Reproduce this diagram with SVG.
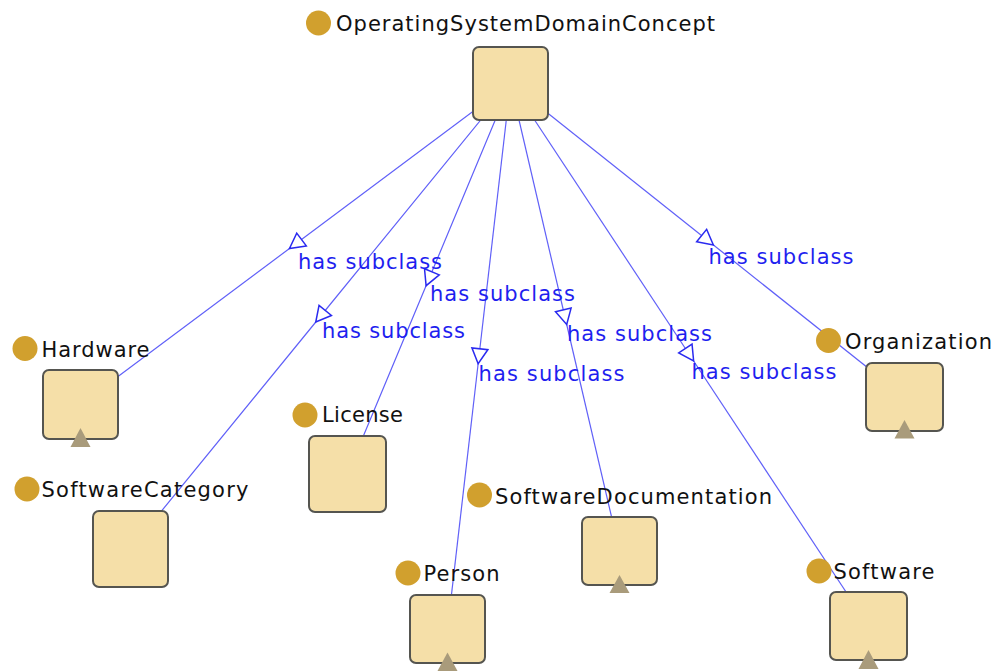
<svg xmlns="http://www.w3.org/2000/svg" width="996" height="671" viewBox="0 0 996 671">
<style>
.edge{fill:none;stroke:#6060f8;stroke-width:1.2;marker-mid:url(#hollow)}
.elabel{font-family:"DejaVu Sans","Liberation Sans",sans-serif;font-size:21px;fill:#1f1fef}
.box{fill:#f5dfa8;stroke:#555550;stroke-width:2}
.dot{fill:#d1a02e}
.tri{fill:#a99b7b}
.nlabel{font-family:"DejaVu Sans","Liberation Sans",sans-serif;font-size:21px;fill:#111}
</style>
<defs>
<marker id="hollow" markerUnits="userSpaceOnUse" viewBox="-10 -10 20 20" markerWidth="20" markerHeight="20" refX="0" refY="0" orient="auto">
<path d="M-7.5,-8 L7.5,0 L-7.5,8 Z" fill="#fff" stroke="#2a2af0" stroke-width="1.5" stroke-linejoin="miter"/>
</marker>
</defs>
<rect width="996" height="671" fill="#fff"/>
<g id="connectors">
<polyline class="edge" points="510.5,83.5 295.5,244 80.5,404.5"/>
<polyline class="edge" points="510.5,83.5 320.5,316.25 130.5,549"/>
<polyline class="edge" points="510.5,83.5 429,278.75 347.5,474"/>
<polyline class="edge" points="510.5,83.5 479,356.25 447.5,629"/>
<polyline class="edge" points="510.5,83.5 565,317.25 619.5,551"/>
<polyline class="edge" points="510.5,83.5 689.5,354.75 868.5,626"/>
<polyline class="edge" points="510.5,83.5 707.5,240.25 904.5,397"/>
<text class="elabel" x="298" y="269" textLength="144" lengthAdjust="spacing">has subclass</text>
<text class="elabel" x="322" y="338" textLength="143" lengthAdjust="spacing">has subclass</text>
<text class="elabel" x="430" y="300.5" textLength="145" lengthAdjust="spacing">has subclass</text>
<text class="elabel" x="478.5" y="380.5" textLength="146" lengthAdjust="spacing">has subclass</text>
<text class="elabel" x="567" y="341" textLength="145" lengthAdjust="spacing">has subclass</text>
<text class="elabel" x="691.5" y="378.5" textLength="145" lengthAdjust="spacing">has subclass</text>
<text class="elabel" x="708.5" y="264" textLength="145" lengthAdjust="spacing">has subclass</text>
</g>
<g id="OperatingSystemDomainConcept">
<rect class="box" x="473" y="47" width="75" height="73" rx="6"/>
<circle class="dot" cx="318.5" cy="23" r="12.5"/>
<text class="nlabel" x="336" y="31" textLength="379" lengthAdjust="spacing">OperatingSystemDomainConcept</text>
</g>
<g id="Hardware">
<rect class="box" x="43" y="370" width="75" height="69" rx="6"/>
<polygon class="tri" points="70.5,447 80.5,428 90.5,447"/>
<circle class="dot" cx="25" cy="348.5" r="12.5"/>
<text class="nlabel" x="41.5" y="357" textLength="108" lengthAdjust="spacing">Hardware</text>
</g>
<g id="SoftwareCategory">
<rect class="box" x="93" y="511" width="75" height="76" rx="6"/>
<circle class="dot" cx="27" cy="489" r="12.5"/>
<text class="nlabel" x="41.5" y="497" textLength="207" lengthAdjust="spacing">SoftwareCategory</text>
</g>
<g id="License">
<rect class="box" x="309" y="436" width="77" height="76" rx="6"/>
<circle class="dot" cx="305" cy="415" r="12.5"/>
<text class="nlabel" x="322" y="422" textLength="81" lengthAdjust="spacing">License</text>
</g>
<g id="Person">
<rect class="box" x="410" y="595" width="75" height="68" rx="6"/>
<polygon class="tri" points="437.5,671 447.5,652.5 457.5,671"/>
<circle class="dot" cx="408" cy="573" r="12.5"/>
<text class="nlabel" x="423.5" y="581" textLength="76" lengthAdjust="spacing">Person</text>
</g>
<g id="SoftwareDocumentation">
<rect class="box" x="582" y="517" width="75" height="68" rx="6"/>
<polygon class="tri" points="609.5,593 619.5,575 629.5,593"/>
<circle class="dot" cx="479.5" cy="495" r="12.5"/>
<text class="nlabel" x="495" y="504" textLength="277" lengthAdjust="spacing">SoftwareDocumentation</text>
</g>
<g id="Organization">
<rect class="box" x="866" y="363" width="77" height="68" rx="6"/>
<polygon class="tri" points="894.5,438.5 904.5,420 914.5,438.5"/>
<circle class="dot" cx="828.5" cy="340.5" r="12.5"/>
<text class="nlabel" x="845" y="348.5" textLength="147" lengthAdjust="spacing">Organization</text>
</g>
<g id="Software">
<rect class="box" x="830" y="592" width="77" height="68" rx="6"/>
<polygon class="tri" points="858.5,669 868.5,650 878.5,669"/>
<circle class="dot" cx="819" cy="571" r="12.5"/>
<text class="nlabel" x="833.5" y="578.5" textLength="101" lengthAdjust="spacing">Software</text>
</g>
</svg>
